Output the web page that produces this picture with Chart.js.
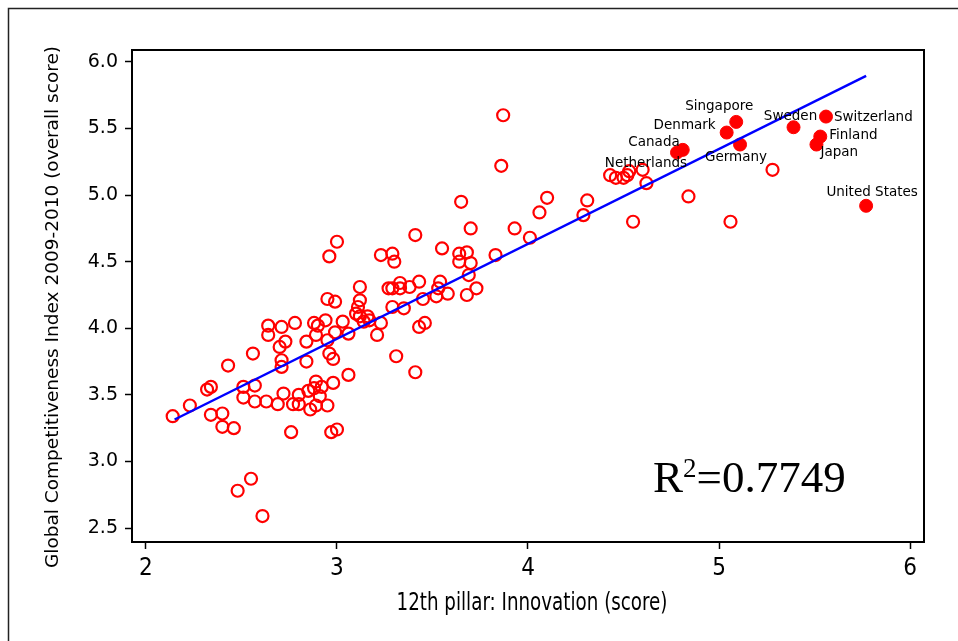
<!DOCTYPE html>
<html>
<head>
<meta charset="utf-8">
<script src="https://cdn.jsdelivr.net/npm/chart.js@4.4.0/dist/chart.umd.min.js"></script>
<style>
  html, body { margin: 0; padding: 0; background: #fff; }
  #wrap { width: 958px; height: 641px; }
</style>
</head>
<body>
<div id="wrap"><canvas id="gci-chart" width="958" height="641"></canvas></div>
<script>
// other countries (open circles): innovation pillar score vs overall GCI
const otherInnovation = [
  2.14, 2.23, 2.32, 2.34, 2.34, 2.40, 2.40, 2.46, 2.43, 2.56, 2.51, 2.57, 2.51, 2.57, 2.63, 2.69, 2.72, 2.77,
  2.80, 2.80, 2.76, 2.86, 2.89, 2.95, 2.85, 2.89, 2.88, 2.92, 2.91, 2.98, 3.06, 2.97, 3.00, 2.55, 2.48, 2.61,
  2.64, 2.64, 2.71, 2.78, 2.73, 2.70, 2.71, 2.71, 2.84, 2.84, 2.88, 2.90, 2.94, 2.89, 2.95, 2.99, 2.96, 2.98,
  3.03, 3.06, 2.95, 2.99, 3.12, 3.12, 3.11, 3.10, 3.12, 3.16, 3.14, 3.17, 3.23, 3.21, 3.27, 3.29, 3.29, 3.31,
  3.35, 3.33, 3.33, 3.38, 3.43, 3.45, 3.54, 3.53, 3.52, 3.58, 3.43, 3.46, 3.41,
  3.00, 2.96, 3.23, 3.29, 3.30, 3.41, 3.55, 3.64, 3.68, 3.64, 3.70, 3.69, 3.73, 3.68, 3.83, 3.65, 3.70, 3.87,
  3.86, 3.93, 4.01, 4.06, 4.10, 4.31, 4.29, 4.55, 4.84, 5.06, 5.28, 4.43, 4.46, 4.50, 4.52, 4.53, 4.60, 4.62
];
const otherGci = [
  3.34, 3.42, 3.54, 3.56, 3.35, 3.36, 3.26, 3.25, 3.72, 3.81, 3.56, 3.57, 3.48, 3.45, 3.45, 3.43, 3.51, 3.43,
  3.43, 3.50, 3.22, 3.39, 3.42, 3.42, 3.53, 3.60, 3.55, 3.56, 3.49, 3.59, 3.65, 3.22, 3.24, 2.87, 2.78, 2.59,
  4.02, 3.95, 4.01, 4.04, 3.90, 3.86, 3.76, 3.71, 3.90, 3.75, 4.04, 4.02, 4.06, 3.95, 3.91, 3.97, 3.81, 3.77,
  4.05, 3.96, 4.22, 4.20, 4.31, 4.21, 4.16, 4.11, 4.09, 4.09, 4.05, 4.06, 4.04, 3.95, 4.30, 4.30, 4.16, 3.79,
  4.15, 4.34, 4.30, 4.31, 4.35, 4.22, 4.35, 4.30, 4.24, 4.26, 4.01, 4.04, 3.67,
  4.65, 4.54, 4.55, 4.56, 4.50, 4.70, 4.60, 4.56, 4.57, 4.50, 4.49, 4.40, 4.30, 4.25, 4.55, 4.95, 4.75, 5.60,
  5.22, 4.75, 4.68, 4.87, 4.98, 4.96, 4.85, 4.80, 4.99, 4.80, 5.19, 5.15, 5.13, 5.13, 5.15, 5.18, 5.19, 5.09
];

// highlighted countries (filled dots)
const countryNames = ['Switzerland', 'Sweden', 'Finland', 'Japan', 'Singapore', 'Denmark',
  'Germany', 'Canada', 'Netherlands', 'United States'];
const countryInnovation = [5.56, 5.39, 5.53, 5.51, 5.09, 5.04, 5.11, 4.81, 4.78, 5.77];
const countryGci = [5.59, 5.51, 5.44, 5.38, 5.55, 5.47, 5.38, 5.34, 5.32, 4.92];

// fitted regression line end points
const fitInnovation = [2.15, 5.77];
const fitGci = [3.315, 5.895];
const rSquared = '0.7749';

const xTickValues = [2, 3, 4, 5, 6];
const yTickValues = [2.5, 3.0, 3.5, 4.0, 4.5, 5.0, 5.5, 6.0];

const xTitle = '12th pillar: Innovation (score)';
const yTitle = 'Global Competitiveness Index 2009-2010 (overall score)';

// where each country name sits relative to its dot
const labelPlacement = {
  'Switzerland':   { dx: 8,   dy: 1,   align: 'left' },
  'Sweden':        { dx: -3,  dy: -11, align: 'center' },
  'Finland':       { dx: 9,   dy: -1,  align: 'left' },
  'Japan':         { dx: 4,   dy: 8,   align: 'left' },
  'Singapore':     { dx: -17, dy: -15, align: 'center' },
  'Denmark':       { dx: -11, dy: -7,  align: 'right' },
  'Germany':       { dx: -4,  dy: 13,  align: 'center' },
  'Canada':        { dx: -3,  dy: -7,  align: 'right' },
  'Netherlands':   { dx: -31, dy: 11,  align: 'center' },
  'United States': { dx: 6,   dy: -13, align: 'center' }
};

const condensed = '"DejaVu Sans Condensed", "DejaVu Sans", sans-serif';

const annotate = {
  id: 'annotate',
  afterDraw(chart) {
    const { ctx, chartArea: a, scales: { x, y } } = chart;
    ctx.save();

    // outer frame, only top and left edges show
    ctx.strokeStyle = '#222';
    ctx.lineWidth = 1.5;
    ctx.beginPath();
    ctx.moveTo(8.5, 641);
    ctx.lineTo(8.5, 8.5);
    ctx.lineTo(958, 8.5);
    ctx.stroke();

    // plot box
    ctx.strokeStyle = '#000';
    ctx.lineWidth = 2;
    ctx.strokeRect(a.left, a.top, a.right - a.left, a.bottom - a.top);

    // country names
    ctx.font = '13.5px "DejaVu Sans"';
    ctx.fillStyle = '#000';
    ctx.textBaseline = 'middle';
    countryNames.forEach((name, i) => {
      const p = labelPlacement[name];
      ctx.textAlign = p.align;
      ctx.fillText(name,
        x.getPixelForValue(countryInnovation[i]) + p.dx,
        y.getPixelForValue(countryGci[i]) + p.dy);
    });

    // R squared
    ctx.textAlign = 'left';
    ctx.textBaseline = 'alphabetic';
    const rx = a.left + 521, ry = a.top + 442;
    ctx.font = '45px "Liberation Serif"';
    ctx.fillText('R', rx, ry);
    let w = ctx.measureText('R').width;
    ctx.font = '27px "Liberation Serif"';
    ctx.fillText('2', rx + w, ry - 15);
    w += ctx.measureText('2').width;
    ctx.font = '45px "Liberation Serif"';
    ctx.fillText('=' + rSquared, rx + w, ry);

    // x axis title, squeezed to the narrow look of the original
    ctx.save();
    ctx.font = '24px ' + condensed;
    ctx.textAlign = 'center';
    ctx.textBaseline = 'middle';
    const tw = ctx.measureText(xTitle).width;
    ctx.translate((a.left + a.right) / 2 + 4, 604);
    ctx.scale(271 / tw, 1);
    ctx.fillText(xTitle, 0, 0);
    ctx.restore();

    // y axis title
    ctx.translate(53, 307);
    ctx.rotate(-Math.PI / 2);
    ctx.textAlign = 'center';
    ctx.textBaseline = 'middle';
    ctx.font = '18.5px "DejaVu Sans"';
    ctx.fillText(yTitle, 0, 0);
    ctx.restore();
  }
};

const ctx = document.getElementById('gci-chart').getContext('2d');
new Chart(ctx, {
  type: 'scatter',
  data: {
    datasets: [
      {
        label: 'Other countries',
        data: otherInnovation.map((v, i) => ({ x: v, y: otherGci[i] })),
        pointStyle: 'circle',
        pointRadius: 6,
        pointHoverRadius: 6,
        pointBorderWidth: 2.2,
        borderColor: '#ff0000',
        backgroundColor: 'rgba(0,0,0,0)',
        order: 3
      },
      {
        label: 'Highlighted',
        data: countryInnovation.map((v, i) => ({ x: v, y: countryGci[i] })),
        pointStyle: 'circle',
        pointRadius: 6.5,
        pointHoverRadius: 6.5,
        pointBorderWidth: 1,
        borderColor: '#ff0000',
        backgroundColor: '#ff0000',
        order: 2
      },
      {
        type: 'line',
        label: 'Fit',
        data: fitInnovation.map((v, i) => ({ x: v, y: fitGci[i] })),
        borderColor: '#0000ff',
        borderWidth: 2.5,
        pointRadius: 0,
        fill: false,
        order: 1
      }
    ]
  },
  options: {
    responsive: false,
    animation: false,
    devicePixelRatio: 1,
    layout: { padding: { top: 50, right: 34, bottom: 0, left: 0 } },
    plugins: {
      legend: { display: false },
      tooltip: { enabled: false }
    },
    scales: {
      x: {
        type: 'linear',
        min: 1.927,
        max: 6.073,
        afterBuildTicks: s => { s.ticks = xTickValues.map(v => ({ value: v })); },
        afterFit: s => { s.height = 99; },
        grid: { drawOnChartArea: false, drawTicks: true, tickLength: 7, tickWidth: 1.5, tickColor: '#000' },
        border: { display: false },
        ticks: {
          color: '#000',
          padding: 5,
          maxRotation: 0,
          font: { family: condensed, size: 24 },
          callback: v => String(v)
        }
      },
      y: {
        type: 'linear',
        min: 2.395,
        max: 6.09,
        afterBuildTicks: s => { s.ticks = yTickValues.map(v => ({ value: v })); },
        afterFit: s => { s.width = 132; },
        grid: { drawOnChartArea: false, drawTicks: true, tickLength: 7, tickWidth: 1.5, tickColor: '#000' },
        border: { display: false },
        ticks: {
          color: '#000',
          padding: 7,
          font: { family: '"DejaVu Sans"', size: 19 },
          callback: v => v.toFixed(1)
        }
      }
    }
  },
  plugins: [annotate]
});
</script>
</body>
</html>
